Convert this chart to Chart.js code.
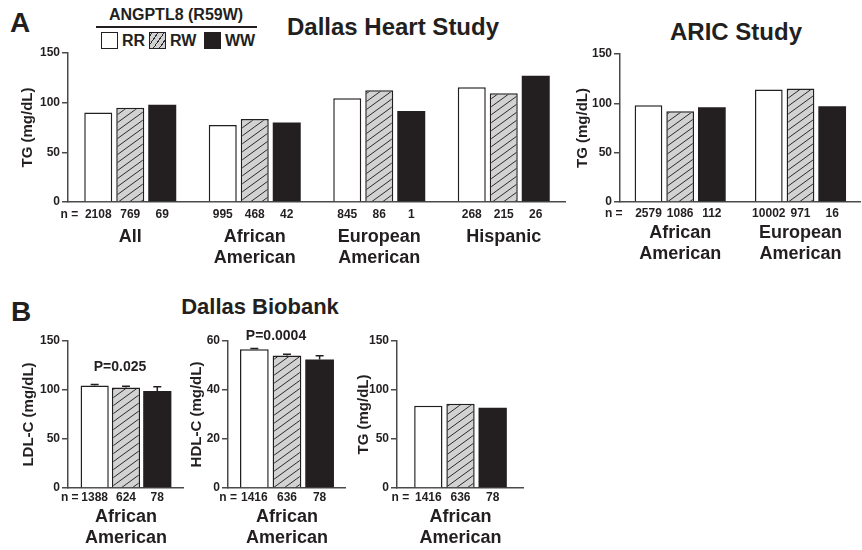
<!DOCTYPE html>
<html>
<head>
<meta charset="utf-8">
<script src="https://cdn.jsdelivr.net/npm/chart.js@4.4.1/dist/chart.umd.min.js"></script>
<style>
body { margin: 0; background: #fff; }
#wrap { position: relative; width: 862px; height: 550px; overflow: hidden;
        font-family: "Liberation Sans", Arial, sans-serif; font-weight: bold; color: #231f20; }
canvas { position: absolute; }
.t { position: absolute; white-space: nowrap; line-height: 1; transform: translate(-50%, -50%); }
.l { position: absolute; white-space: nowrap; line-height: 1; transform: translateY(-50%); font-size: 16px; }
.box { position: absolute; width: 17px; height: 17px; box-sizing: border-box; border: 1.5px solid #231f20; }
</style>
</head>
<body>
<div id="wrap">
  <div class="t" style="left:20px;top:23px;font-size:28px">A</div>
  <div class="t" style="left:176px;top:15px;font-size:16px">ANGPTL8 (R59W)</div>
  <div style="position:absolute;left:96px;top:26px;width:161px;height:1.5px;background:#231f20"></div>
  <div class="box" style="left:101px;top:32px;background:#fff"></div>
  <div class="l" style="left:122px;top:41px">RR</div>
  <div class="box" style="left:149px;top:32px;background:repeating-linear-gradient(-55deg,#d2d2d2 0 4px,#2b2b2b 4px 5px)"></div>
  <div class="l" style="left:170px;top:41px">RW</div>
  <div class="box" style="left:204px;top:32px;background:#231f20"></div>
  <div class="l" style="left:225px;top:41px">WW</div>
  <div class="t" style="left:393px;top:27px;font-size:24px">Dallas Heart Study</div>
  <div class="t" style="left:736px;top:32px;font-size:24px">ARIC Study</div>

  <div class="t" style="left:21px;top:312px;font-size:28px">B</div>
  <div class="t" style="left:260px;top:307px;font-size:22px">Dallas Biobank</div>

  <canvas id="dhs" width="566" height="270" style="left:0;top:0"></canvas>
  <canvas id="aric" width="302" height="270" style="left:560px;top:0"></canvas>
  <canvas id="ldl" width="185" height="270" style="left:0;top:280px"></canvas>
  <canvas id="hdl" width="161" height="270" style="left:185px;top:280px"></canvas>
  <canvas id="tgb" width="178" height="270" style="left:346px;top:280px"></canvas>

  <div class="t" style="left:120px;top:366px;font-size:14px">P=0.025</div>
  <div class="t" style="left:276px;top:335px;font-size:14px">P=0.0004</div>
</div>
<script>
const genotypes = ['RR', 'RW', 'WW'];

// A - Dallas Heart Study, TG (mg/dL)
const dhsGroups = [['All'], ['African', 'American'], ['European', 'American'], ['Hispanic']];
const dhsRR = [90, 77.5, 104.5, 115.5];
const dhsRW = [95, 83.5, 112.5, 109.5];
const dhsWW = [98, 80, 91.5, 127];
const dhsN = [[2108, 995, 845, 268], [769, 468, 86, 215], [69, 42, 1, 26]];

// A - ARIC Study, TG (mg/dL)
const aricGroups = [['African', 'American'], ['European', 'American']];
const aricRR = [98, 114];
const aricRW = [92, 115];
const aricWW = [96, 97];
const aricN = [[2579, 10002], [1086, 971], [112, 16]];

// B - Dallas Biobank, African American (RR, RW, WW)
const bbGroup = [['African', 'American']];
const ldlMean = [104.7, 102.6, 98.9];
const ldlErr = [0.8, 1.2, 4.3];
const ldlN = [1388, 624, 78];
const hdlMean = [56.6, 54.1, 52.5];
const hdlErr = [0.3, 0.5, 1.5];
const hdlN = [1416, 636, 78];
const tgMean = [84, 86, 82];
const tgN = [1416, 636, 78];

const ink = '#231f20';
const axisCol = '#4a4a4a';
const fontFam = '"Liberation Sans", Arial, sans-serif';
Chart.defaults.font.family = fontFam;

function makeHatch() {
  const c = document.createElement('canvas');
  c.width = 11; c.height = 8;
  const g = c.getContext('2d');
  g.fillStyle = '#d2d2d2';
  g.fillRect(0, 0, 11, 8);
  g.strokeStyle = '#2b2b2b';
  g.lineWidth = 1;
  g.beginPath();
  for (let k = -1; k <= 1; k++) {
    g.moveTo(-11, 16 + k * 8);
    g.lineTo(22, -8 + k * 8);
  }
  g.stroke();
  return g.createPattern(c, 'repeat');
}
const fills = ['#ffffff', makeHatch(), ink];

// n = ... row under the bars
const nLabels = {
  id: 'nLabels',
  afterDraw(chart, args, o) {
    if (!o.counts) return;
    const ctx = chart.ctx;
    const y = chart.chartArea.bottom + o.dy;
    ctx.save();
    ctx.font = 'bold 12px ' + fontFam;
    ctx.fillStyle = ink;
    ctx.textBaseline = 'middle';
    ctx.textAlign = 'center';
    o.counts.forEach((row, i) => {
      chart.getDatasetMeta(i).data.forEach((bar, j) => ctx.fillText(row[j], bar.x, y));
    });
    const first = chart.getDatasetMeta(0).data[0];
    ctx.textAlign = 'right';
    ctx.fillText('n =', first.x - first.width / 2 - o.gap, y);
    ctx.restore();
  }
};

// upper half of the SEM bars
const errBars = {
  id: 'errBars',
  afterDatasetsDraw(chart, args, o) {
    if (!o.errors) return;
    const ctx = chart.ctx;
    const ys = chart.scales.y;
    ctx.save();
    ctx.strokeStyle = ink;
    ctx.lineWidth = 1.5;
    o.errors.forEach((err, i) => {
      const bar = chart.getDatasetMeta(i).data[0];
      const v = chart.data.datasets[i].data[0];
      const top = ys.getPixelForValue(v + err);
      ctx.beginPath();
      ctx.moveTo(bar.x, bar.y);
      ctx.lineTo(bar.x, top);
      ctx.moveTo(bar.x - 4, top);
      ctx.lineTo(bar.x + 4, top);
      ctx.stroke();
    });
    ctx.restore();
  }
};
Chart.register(nLabels, errBars);

function barChart(id, o) {
  const datasets = o.values.map((vals, i) => ({
    label: genotypes[i],
    data: vals,
    backgroundColor: fills[i],
    borderColor: ink,
    borderWidth: i == 2 ? 0 : 1.5,
    categoryPercentage: o.catPct,
    barPercentage: o.barPct
  }));
  return new Chart(document.getElementById(id), {
    type: 'bar',
    data: { labels: o.labels, datasets: datasets },
    options: {
      responsive: false,
      animation: false,
      layout: { padding: { top: o.top, left: 0, right: 0, bottom: 0 } },
      plugins: {
        legend: { display: false },
        tooltip: { enabled: false },
        nLabels: { counts: o.counts, dy: o.dy, gap: o.gap },
        errBars: { errors: o.errors }
      },
      scales: {
        x: {
          grid: { display: false, drawTicks: false },
          border: { display: true, color: axisCol, width: 1.5 },
          ticks: { color: ink, font: { size: 18, weight: 'bold' }, padding: o.labelPad, maxRotation: 0, autoSkip: false },
          afterFit: s => { s.height = o.xh; }
        },
        y: {
          min: 0,
          max: o.max,
          ticks: { stepSize: o.step, color: ink, font: { size: 12, weight: 'bold' }, padding: 2 },
          grid: { drawOnChartArea: false, drawTicks: true, tickLength: 6, color: axisCol, lineWidth: 1.5 },
          border: { display: true, color: axisCol, width: 1.5 },
          title: { display: true, text: o.yTitle, color: ink, font: { size: 15, weight: 'bold' }, padding: { top: o.titlePad, bottom: 0 } },
          afterFit: s => { s.width = o.yw; }
        }
      }
    }
  });
}

barChart('dhs', {
  labels: dhsGroups, values: [dhsRR, dhsRW, dhsWW], counts: dhsN,
  max: 150, step: 50, yTitle: 'TG (mg/dL)',
  top: 53, yw: 68, xh: 68, labelPad: 24, dy: 13, gap: 6, titlePad: 19,
  catPct: 0.771, barPct: 0.875
});

barChart('aric', {
  labels: aricGroups, values: [aricRR, aricRW, aricWW], counts: aricN,
  max: 150, step: 50, yTitle: 'TG (mg/dL)',
  top: 54, yw: 60, xh: 68, labelPad: 20, dy: 12, gap: 12, titlePad: 13.5,
  catPct: 0.79, barPct: 0.875
});

barChart('ldl', {
  labels: bbGroup, values: ldlMean.map(v => [v]), counts: ldlN.map(v => [v]), errors: ldlErr,
  max: 150, step: 50, yTitle: 'LDL-C (mg/dL)',
  top: 61, yw: 68, xh: 62, labelPad: 18, dy: 10, gap: 2, titlePad: 20,
  catPct: 0.81, barPct: 0.9
});

barChart('hdl', {
  labels: bbGroup, values: hdlMean.map(v => [v]), counts: hdlN.map(v => [v]), errors: hdlErr,
  max: 60, step: 20, yTitle: 'HDL-C (mg/dL)',
  top: 61, yw: 43, xh: 62, labelPad: 18, dy: 10, gap: 3, titlePad: 2.5,
  catPct: 0.83, barPct: 0.88
});

barChart('tgb', {
  labels: bbGroup, values: tgMean.map(v => [v]), counts: tgN.map(v => [v]),
  max: 150, step: 50, yTitle: 'TG (mg/dL)',
  top: 61, yw: 51, xh: 62, labelPad: 18, dy: 10, gap: 5, titlePad: 9,
  catPct: 0.76, barPct: 0.88
});
</script>
</body>
</html>
